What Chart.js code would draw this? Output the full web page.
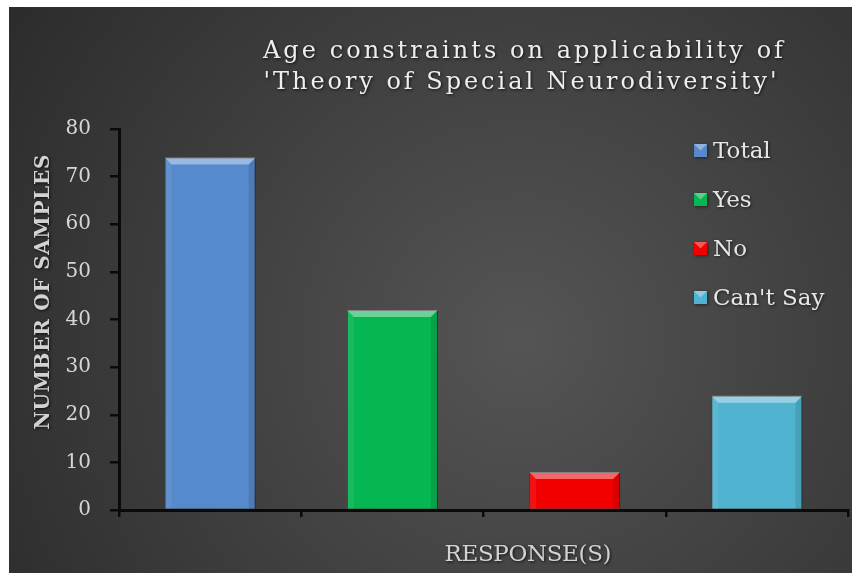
<!DOCTYPE html>
<html>
<head>
<meta charset="utf-8">
<script src="https://cdn.jsdelivr.net/npm/chart.js@4.4.1/dist/chart.umd.min.js"></script>
<style>
  html, body { margin: 0; padding: 0; background: #fff; }
  canvas { display: block; }
</style>
</head>
<body>
<canvas id="chart" width="854" height="573"></canvas>
<script>
const categories = ["Total", "Yes", "No", "Can't Say"];
const samples = [74, 42, 8, 24];
const barColors = ["#5789cd", "#06b652", "#f20000", "#50b3cf"];
const titleLines = ["Age constraints on applicability of", "'Theory of Special Neurodiversity'"];
const yTitle = "NUMBER OF SAMPLES";
const xTitle = "RESPONSE(S)";
const yMax = 80;
const yStep = 10;

const SERIF = '"DejaVu Serif", serif';
const AXIS = "#0a0a0a";

// draw text centred on x so that it spans `width`, spreading letters
function spacedText(ctx, text, x, y, width, font) {
  ctx.font = font;
  ctx.letterSpacing = "0px";
  const natural = ctx.measureText(text).width;
  const ls = (width - natural) / (text.length - 1);
  ctx.letterSpacing = ls + "px";
  ctx.textAlign = "left";
  ctx.fillText(text, x - width / 2, y);
  ctx.letterSpacing = "0px";
}

const backdrop = {
  id: "backdrop",
  beforeDraw(chart) {
    const ctx = chart.ctx;
    ctx.save();
    const g = ctx.createRadialGradient(520, 340, 10, 520, 340, 620);
    g.addColorStop(0, "#545454");
    g.addColorStop(1, "#2b2b2b");
    ctx.fillStyle = g;
    ctx.fillRect(9, 7, 843, 566);
    ctx.restore();
  }
};

// bevel facets on every bar, taken from the bar elements
const bevel = {
  id: "bevel",
  afterDatasetsDraw(chart) {
    const ctx = chart.ctx;
    ctx.save();
    chart.getDatasetMeta(0).data.forEach((bar) => {
      const { x, y, base, width } = bar.getProps(["x", "y", "base", "width"], true);
      const l = x - width / 2, r = x + width / 2, b = 7;
      ctx.fillStyle = "rgba(255,255,255,0.4)";
      ctx.beginPath();
      ctx.moveTo(l, y); ctx.lineTo(r, y); ctx.lineTo(r - b, y + b); ctx.lineTo(l + b, y + b);
      ctx.closePath(); ctx.fill();
      ctx.fillStyle = "rgba(255,255,255,0.07)";
      ctx.beginPath();
      ctx.moveTo(l, y); ctx.lineTo(l + b, y + b); ctx.lineTo(l + b, base); ctx.lineTo(l, base);
      ctx.closePath(); ctx.fill();
      ctx.fillStyle = "rgba(0,0,0,0.1)";
      ctx.beginPath();
      ctx.moveTo(r, y); ctx.lineTo(r - b, y + b); ctx.lineTo(r - b, base); ctx.lineTo(r, base);
      ctx.closePath(); ctx.fill();
    });
    ctx.restore();
  }
};

const overlay = {
  id: "overlay",
  afterDraw(chart) {
    const ctx = chart.ctx;
    ctx.save();
    ctx.textBaseline = "alphabetic";

    // title
    ctx.shadowColor = "rgba(0,0,0,0.75)";
    ctx.shadowBlur = 3;
    ctx.shadowOffsetX = 1;
    ctx.shadowOffsetY = 1;
    ctx.fillStyle = "#eeeeee";
    spacedText(ctx, titleLines[0], 523, 58, 520, "24px " + SERIF);
    spacedText(ctx, titleLines[1], 520, 89, 513, "24px " + SERIF);

    // axis titles
    ctx.fillStyle = "#d2d2d2";
    spacedText(ctx, xTitle, 528, 561, 167, "23px " + SERIF);
    ctx.save();
    ctx.translate(49, 292);
    ctx.rotate(-Math.PI / 2);
    spacedText(ctx, yTitle, 0, 0, 275, "bold 20px " + SERIF);
    ctx.restore();

    // legend
    const ds = chart.data.datasets[0];
    chart.data.labels.forEach((label, i) => {
      const base = 158 + i * 49;
      const mx = 694, my = base - 14, s = 13;
      ctx.shadowColor = "rgba(0,0,0,0.5)";
      ctx.fillStyle = ds.backgroundColor[i];
      ctx.fillRect(mx, my, s, s);
      ctx.shadowColor = "transparent";
      ctx.fillStyle = "rgba(255,255,255,0.35)";
      ctx.beginPath();
      ctx.moveTo(mx, my); ctx.lineTo(mx + s, my); ctx.lineTo(mx + s / 2, my + s / 2);
      ctx.closePath(); ctx.fill();
      ctx.shadowColor = "rgba(0,0,0,0.6)";
      ctx.fillStyle = "#e6e6e6";
      ctx.font = "23px " + SERIF;
      ctx.textAlign = "left";
      ctx.fillText(label, 713, base);
    });
    ctx.restore();
  }
};

new Chart(document.getElementById("chart"), {
  type: "bar",
  data: {
    labels: categories,
    datasets: [{
      data: samples,
      backgroundColor: barColors,
      borderColor: "rgba(10,15,25,0.45)",
      borderWidth: 1,
      categoryPercentage: 1,
      barPercentage: 0.5
    }]
  },
  options: {
    responsive: false,
    animation: false,
    devicePixelRatio: 1,
    layout: { padding: { left: 9, right: 6, top: 129, bottom: 0 } },
    plugins: {
      legend: { display: false },
      title: { display: false },
      tooltip: { enabled: false }
    },
    scales: {
      x: {
        z: 1,
        grid: { drawOnChartArea: false, drawTicks: true, tickLength: 7, color: AXIS, lineWidth: 2.5, offset: true },
        border: { display: true, color: AXIS, width: 3 },
        ticks: { display: false },
        afterFit: (s) => { s.height = 63; }
      },
      y: {
        min: 0,
        max: yMax,
        ticks: { stepSize: yStep, color: "#d6d6d6", font: { family: SERIF, size: 20 }, padding: 19 },
        grid: { drawOnChartArea: false, tickLength: 9, color: AXIS, lineWidth: 2.5 },
        border: { display: true, color: AXIS, width: 3 },
        afterFit: (s) => { s.width = 110; }
      }
    }
  },
  plugins: [backdrop, bevel, overlay]
});
</script>
</body>
</html>
